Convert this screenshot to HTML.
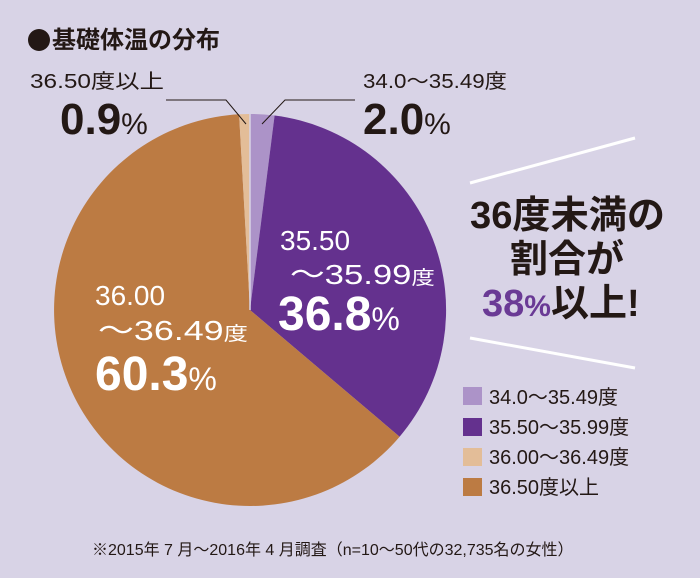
<!DOCTYPE html>
<html><head><meta charset="utf-8"><style>
body{margin:0;background:#d8d3e6;}
svg{display:block;font-family:"Liberation Sans","Noto Sans CJK JP",sans-serif;}
</style></head><body>
<svg width="700" height="578" viewBox="0 0 700 578">
<rect width="700" height="578" fill="#d8d3e6"/>
<circle cx="39" cy="40" r="11" fill="#231815"/>
<text x="52" y="48" font-size="24" font-weight="bold" fill="#231815">基礎体温の分布</text>
<path d="M250,310 L250,114 A196,196 0 0 1 274.6,115.5 Z" fill="#ac93c8"/>
<path d="M250,310 L274.6,115.5 A196,196 0 0 1 399.6,436.7 Z" fill="#64318e"/>
<path d="M250,310 L399.6,436.7 A196,196 0 1 1 239.1,114.3 Z" fill="#bc7b43"/>
<path d="M250,310 L239.1,114.3 A196,196 0 0 1 250,114 Z" fill="#e3bd98"/>
<line x1="250" y1="114" x2="250" y2="310" stroke="#d8d3e6" stroke-width="1.5"/>
<polyline points="166,100 226,100 246,124" fill="none" stroke="#231815" stroke-width="1"/>
<polyline points="355,100 285,100 262,124" fill="none" stroke="#231815" stroke-width="1"/>
<text x="30" y="88" font-size="20" fill="#231815" textLength="134" lengthAdjust="spacingAndGlyphs">36.50度以上</text>
<text x="60" y="134" font-size="44" font-weight="bold" fill="#231815">0.9<tspan font-size="30" font-weight="normal">%</tspan></text>
<text x="363" y="88" font-size="20" fill="#231815" textLength="144" lengthAdjust="spacingAndGlyphs">34.0〜35.49度</text>
<text x="363" y="134" font-size="44" font-weight="bold" fill="#231815">2.0<tspan font-size="30" font-weight="normal">%</tspan></text>
<text x="280" y="250" font-size="28" fill="#fff">35.50</text>
<text x="290" y="284" font-size="28" fill="#fff" textLength="145" lengthAdjust="spacingAndGlyphs">〜35.99<tspan font-size="19">度</tspan></text>
<text x="278" y="330" font-size="48" font-weight="bold" fill="#fff">36.8<tspan font-size="32" font-weight="normal">%</tspan></text>
<text x="95" y="305" font-size="28" fill="#fff">36.00</text>
<text x="98" y="340" font-size="28" fill="#fff" textLength="150" lengthAdjust="spacingAndGlyphs">〜36.49<tspan font-size="19">度</tspan></text>
<text x="95" y="390" font-size="48" font-weight="bold" fill="#fff">60.3<tspan font-size="32" font-weight="normal">%</tspan></text>
<line x1="470" y1="183" x2="635" y2="138" stroke="#fff" stroke-width="3"/>
<line x1="470" y1="338" x2="635" y2="368" stroke="#fff" stroke-width="3"/>
<text x="470" y="228" font-size="38" font-weight="bold" fill="#231815" textLength="195" lengthAdjust="spacingAndGlyphs">36度未満の</text>
<text x="510" y="272" font-size="38" font-weight="bold" fill="#231815">割合が</text>
<text x="482" y="316" font-size="38" font-weight="bold" fill="#6a3a95">38<tspan font-size="30">%</tspan><tspan fill="#231815">以上!</tspan></text>
<rect x="463" y="387" width="19" height="18" fill="#ac93c8"/>
<rect x="463" y="418" width="19" height="18" fill="#64318e"/>
<rect x="463" y="448" width="19" height="18" fill="#e3bd98"/>
<rect x="463" y="478" width="19" height="18" fill="#bc7b43"/>
<g font-size="20" fill="#231815">
<text x="489" y="404">34.0〜35.49度</text>
<text x="489" y="434">35.50〜35.99度</text>
<text x="489" y="464">36.00〜36.49度</text>
<text x="489" y="494">36.50度以上</text>
</g>
<text x="92" y="555" font-size="16" fill="#231815">※2015年 7 月〜2016年 4 月調査（n=10〜50代の32,735名の女性）</text>
</svg>
</body></html>
